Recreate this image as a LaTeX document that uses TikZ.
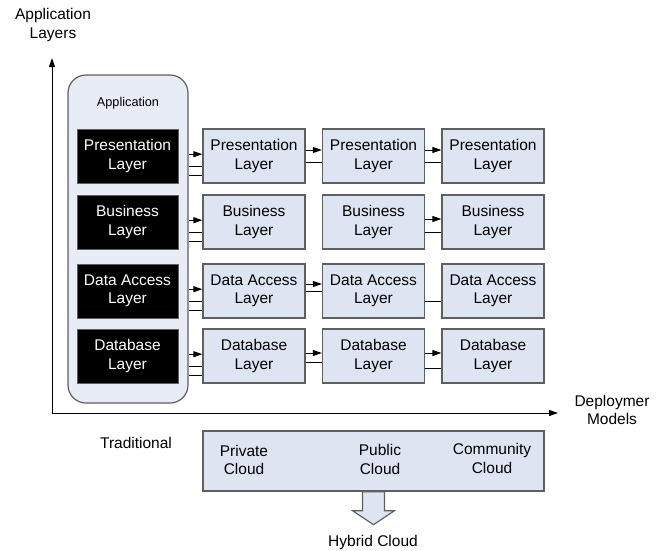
\documentclass[tikz,border=0pt]{standalone}
\usepackage{fontspec}
\setmainfont{Liberation Sans}
\usepackage{xcolor}
\usetikzlibrary{arrows.meta}
\definecolor{boxfill}{RGB}{222,229,242}
\definecolor{appfill}{RGB}{231,236,246}
\definecolor{edgegray}{RGB}{95,95,95}

\begin{document}
\begin{tikzpicture}[x=1pt,y=-1pt,
    font=\fontsize{15.5}{18.5}\selectfont,
    layerbox/.style={draw=edgegray,line width=1.3pt,fill=boxfill,minimum width=102pt,minimum height=54pt,inner sep=0pt,align=center},
    blackbox/.style={draw=edgegray,line width=1pt,fill=black,text=white,minimum width=101pt,minimum height=54pt,inner sep=0pt,align=center},
    appbox/.style={draw=edgegray,line width=1.2pt,fill=appfill,rounded corners=18pt,minimum width=120pt,minimum height=328pt,inner sep=0pt},
    conn/.style={line width=1pt},
    flow/.style={-{Triangle[length=9pt,width=6pt]}}]
    \useasboundingbox (0,0) rectangle (657,550);

    \coordinate (origin) at (52,413);
    \coordinate (ytop) at (52,58);
    \coordinate (xend) at (558,413);
    \draw [conn,flow] (origin) -- (ytop);
    \draw [conn,flow] (origin) -- (xend);
    \node[align = center](ylabel) at (53,25) {Application\\Layers};
    \node[align = center](xlabel) at (612,410) {Deploymer\\Models};

    \node[appbox](app) at (128,239) {};
    \node[font=\fontsize{12.7}{15}\selectfont](apptitle) at (128,103) {Application};

    \node[blackbox](pres0) at (127.5,156) {Presentation\\Layer};
    \node[blackbox](bus0) at (127.5,222) {Business\\Layer};
    \node[blackbox](dacc0) at (127.5,291) {Data Access\\Layer};
    \node[blackbox](dbase0) at (127.5,356) {Database\\Layer};

    \node[layerbox](pres1) at (254,156) {Presentation\\Layer};
    \node[layerbox](pres2) at (373.5,156) {Presentation\\Layer};
    \node[layerbox](pres3) at (493,156) {Presentation\\Layer};
    \node[layerbox](bus1) at (254,222) {Business\\Layer};
    \node[layerbox](bus2) at (373.5,222) {Business\\Layer};
    \node[layerbox](bus3) at (493,222) {Business\\Layer};
    \node[layerbox](dacc1) at (254,291) {Data Access\\Layer};
    \node[layerbox](dacc2) at (373.5,291) {Data Access\\Layer};
    \node[layerbox](dacc3) at (493,291) {Data Access\\Layer};
    \node[layerbox](dbase1) at (254,356) {Database\\Layer};
    \node[layerbox](dbase2) at (373.5,356) {Database\\Layer};
    \node[layerbox](dbase3) at (493,356) {Database\\Layer};

    \draw [conn,flow] (app.east |- pres1.178) -- (pres1.178);
    \draw [conn] (app.east |- pres1.191) -- (pres1.191);
    \draw [conn] (app.east |- pres1.201) -- (pres1.201);
    \draw [conn,flow] (app.east |- bus1.178) -- (bus1.178);
    \draw [conn] (app.east |- bus1.191) -- (bus1.191);
    \draw [conn] (app.east |- bus1.201) -- (bus1.201);
    \draw [conn,flow] (app.east |- dacc1.178) -- (dacc1.178);
    \draw [conn] (app.east |- dacc1.191) -- (dacc1.191);
    \draw [conn] (app.east |- dacc1.201) -- (dacc1.201);
    \draw [conn,flow] (app.east |- dbase1.178) -- (dbase1.178);
    \draw [conn] (app.east |- dbase1.191) -- (dbase1.191);
    \draw [conn] (app.east |- dbase1.201) -- (dbase1.201);

    \draw [conn,flow] ([yshift=6pt]pres1.east) -- ([yshift=6pt]pres2.west);
    \draw [conn] ([yshift=-6pt]pres1.east) -- ([yshift=-6pt]pres2.west);
    \draw [conn,flow] ([yshift=6pt]pres2.east) -- ([yshift=6pt]pres3.west);
    \draw [conn] ([yshift=-6pt]pres2.east) -- ([yshift=-6pt]pres3.west);
    \draw [conn,flow] ([yshift=3pt]bus2.east) -- ([yshift=3pt]bus3.west);
    \draw [conn] ([yshift=-10pt]bus2.east) -- ([yshift=-10pt]bus3.west);
    \draw [conn,flow] ([yshift=7pt]dacc1.east) -- ([yshift=7pt]dacc2.west);
    \draw [conn] (dacc1.east) -- (dacc2.west);
    \draw [conn] ([yshift=-10pt]dacc2.east) -- ([yshift=-10pt]dacc3.west);
    \draw [conn,flow] ([yshift=3pt]dbase1.east) -- ([yshift=3pt]dbase2.west);
    \draw [conn] ([yshift=-6pt]dbase1.east) -- ([yshift=-6pt]dbase2.west);
    \draw [conn,flow] ([yshift=3pt]dbase2.east) -- ([yshift=3pt]dbase3.west);
    \draw [conn] ([yshift=-12pt]dbase2.east) -- ([yshift=-12pt]dbase3.west);

    \node(trad) at (136,443) {Traditional};
    \node[layerbox,minimum width=341pt,minimum height=60pt](cloud) at (373.5,461) {};
    \node[align = center](priv) at (244,460) {Private\\Cloud};
    \node[align = center](pub) at (380,459.5) {Public\\Cloud};
    \node[align = center](comm) at (492,458.5) {Community\\Cloud};

    \draw [draw=edgegray,line width=1.2pt,fill=boxfill] (cloud.south) ++(-11,0) -- ++(0,19) -- ++(-10,0) -- ++(21,14) -- ++(21,-14) -- ++(-10,0) -- ++(0,-19) -- cycle;
    \node(hybrid) at (373,542) {Hybrid Cloud};
\end{tikzpicture}
\end{document}
